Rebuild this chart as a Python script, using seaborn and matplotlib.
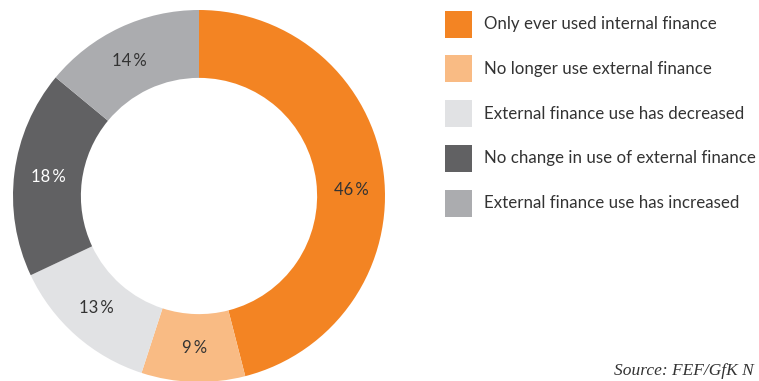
import matplotlib
matplotlib.use("Agg")
import matplotlib.pyplot as plt
from matplotlib.patches import Rectangle
import numpy as np
import seaborn as sns

# Data
categories = [
    "Only ever used internal finance",
    "No longer use external finance",
    "External finance use has decreased",
    "No change in use of external finance",
    "External finance use has increased",
]
shares = [46, 9, 13, 18, 14]
colors = ["#F38423", "#F9BB84", "#E1E2E4", "#616163", "#ABACAF"]
label_colors = ["#333333", "#333333", "#333333", "#FFFFFF", "#333333"]
source_text = "Source: FEF/GfK N"

sns.set_style("white")
plt.rcParams["font.family"] = ["Lato", "DejaVu Sans"]

W, H = 759, 381
fig = plt.figure(figsize=(W / 100, H / 100), dpi=100)

# Donut axes: centre (199, 196) px, outer radius 186 px
cx, cy, r = 199, 196, 186
ring = 0.365
ax = fig.add_axes([(cx - r) / W, (H - cy - r) / H, 2 * r / W, 2 * r / H])
palette = sns.color_palette(colors)
wedges, _ = ax.pie(
    shares,
    colors=palette,
    startangle=90,
    counterclock=False,
    radius=1.0,
    wedgeprops=dict(width=ring, linewidth=0),
)
ax.set_xlim(-1, 1)
ax.set_ylim(-1, 1)
ax.set_aspect("equal")
ax.axis("off")

# Value labels in the middle of the ring (largest one sits a little lower)
label_r = 1 - ring / 2
angle_shift = [-5, 0, -1, 0, 2]
for w, val, lc, da in zip(wedges, shares, label_colors, angle_shift):
    ang = np.deg2rad((w.theta1 + w.theta2) / 2 + da)
    ax.text(label_r * np.cos(ang), label_r * np.sin(ang), f"{val}\u2009%",
            ha="center", va="center", fontsize=12, color=lc)

# Legend: colour squares with labels, drawn in figure pixels
sq = 27
row0, pitch = 24, 44.8
for i, (name, c) in enumerate(zip(categories, palette)):
    yc = row0 + i * pitch
    fig.add_artist(Rectangle((445 / W, (H - yc - sq / 2) / H), sq / W, sq / H,
                             transform=fig.transFigure, facecolor=c,
                             edgecolor="none"))
    fig.text(484 / W, (H - yc) / H, name, fontsize=12.2, color="#333333",
             ha="left", va="center")

fig.text(614 / W, 1 - 375 / H, source_text, fontsize=12.5, style="italic",
         family=["Liberation Serif"], color="#333333", ha="left",
         va="baseline")

fig.savefig("out.png", dpi=100)
